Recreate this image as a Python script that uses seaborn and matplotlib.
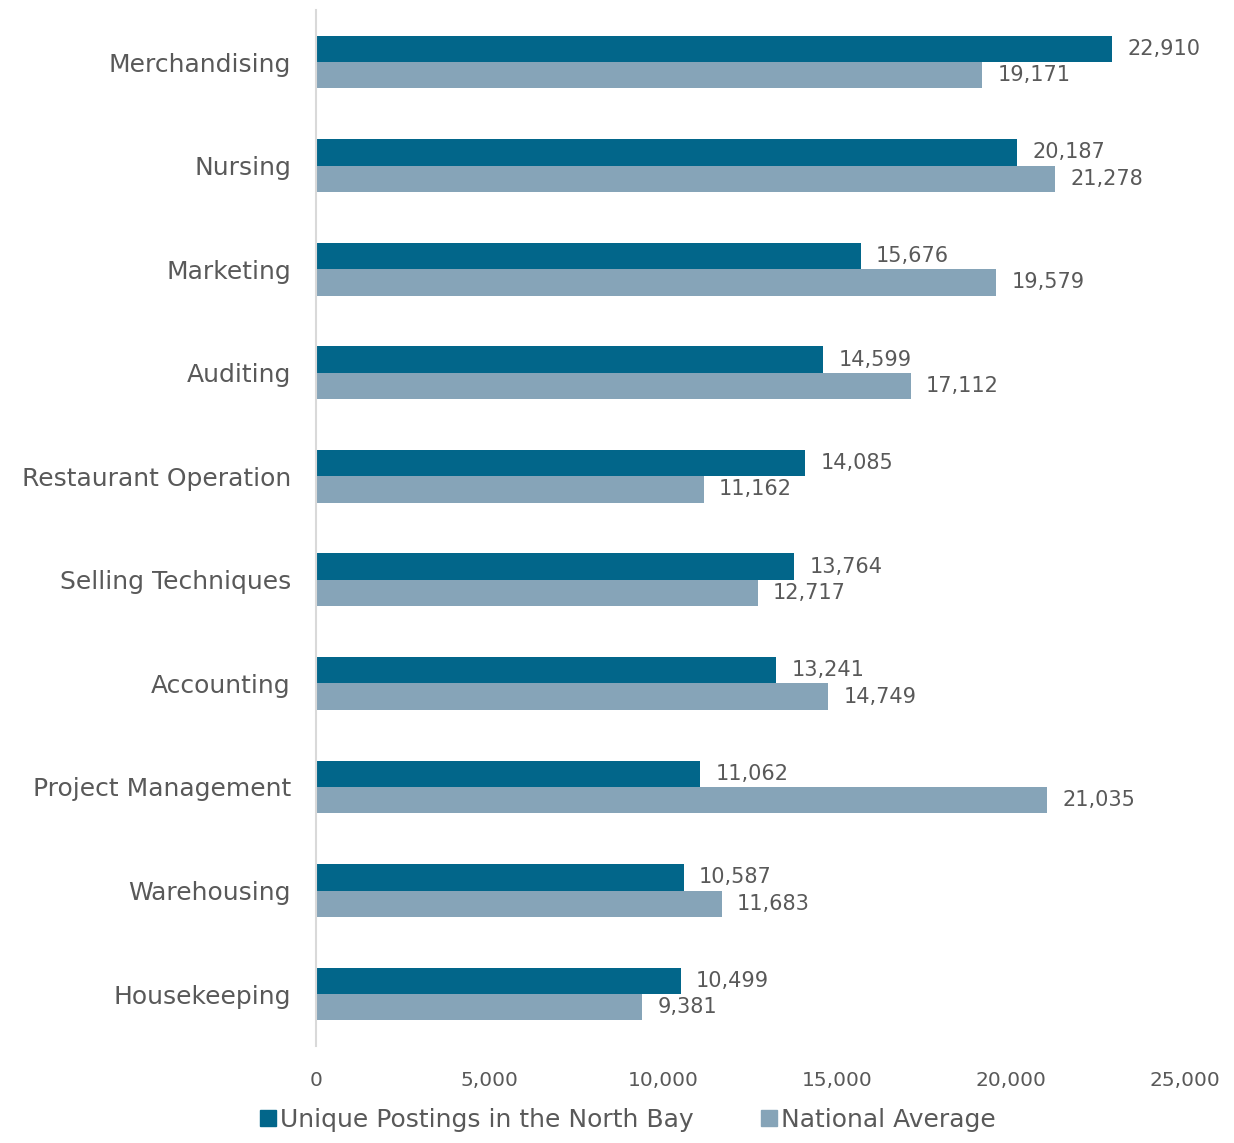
import numpy as np
import pandas as pd
import seaborn as sns
import matplotlib.pyplot as plt

categories = ["Merchandising", "Nursing", "Marketing", "Auditing", "Restaurant Operation",
              "Selling Techniques", "Accounting", "Project Management", "Warehousing", "Housekeeping"]
north_bay = [22910, 20187, 15676, 14599, 14085, 13764, 13241, 11062, 10587, 10499]
national = [19171, 21278, 19579, 17112, 11162, 12717, 14749, 21035, 11683, 9381]
series_names = ["Unique Postings in the North Bay", "National Average"]
x_ticks = [0, 5000, 10000, 15000, 20000, 25000]

df = pd.DataFrame({
    "Skill": categories * 2,
    "Postings": north_bay + national,
    "Series": [series_names[0]] * len(categories) + [series_names[1]] * len(categories),
})

sns.set_theme(style="white")
plt.rcParams['font.family'] = ['DejaVu Sans']
text_col = "#595959"
colors = ["#02668A", "#86A4B8"]

fig = plt.figure(figsize=(12.34, 11.43), dpi=100)
ax = fig.add_axes([0.256, 0.085, 0.704, 0.906])

sns.barplot(data=df, y="Skill", x="Postings", hue="Series", order=categories,
            hue_order=series_names, palette=colors, width=0.51, orient="h",
            ax=ax, legend=False, saturation=1, linewidth=0)

for cont in ax.containers:
    ax.bar_label(cont, labels=[f"{v:,.0f}" for v in cont.datavalues],
                 padding=11, fontsize=15, color=text_col)

ax.set_xlim(0, 25000)
ax.set_ylim(len(categories) - 0.5, -0.5)
ax.set_xticks(x_ticks)
ax.set_xticklabels([f"{t:,}" for t in x_ticks])
ax.set_xlabel("")
ax.set_ylabel("")
ax.tick_params(axis="y", length=0, pad=18, labelsize=18, labelcolor=text_col)
ax.tick_params(axis="x", length=0, pad=18, labelsize=14.5, labelcolor=text_col)
for s in ["top", "right", "bottom"]:
    ax.spines[s].set_visible(False)
ax.spines["left"].set_color("#D9D9D9")
ax.spines["left"].set_linewidth(1.5)

handles = [plt.Line2D([], [], marker="s", linestyle="", markersize=12, color=c) for c in colors]
fig.legend(handles, series_names, loc="lower center", bbox_to_anchor=(0.508, -0.01),
           ncol=2, frameon=False, fontsize=18, labelcolor=text_col,
           handletextpad=0.1, columnspacing=2.6, handlelength=0.8)

fig.savefig("out.png", dpi=100)
